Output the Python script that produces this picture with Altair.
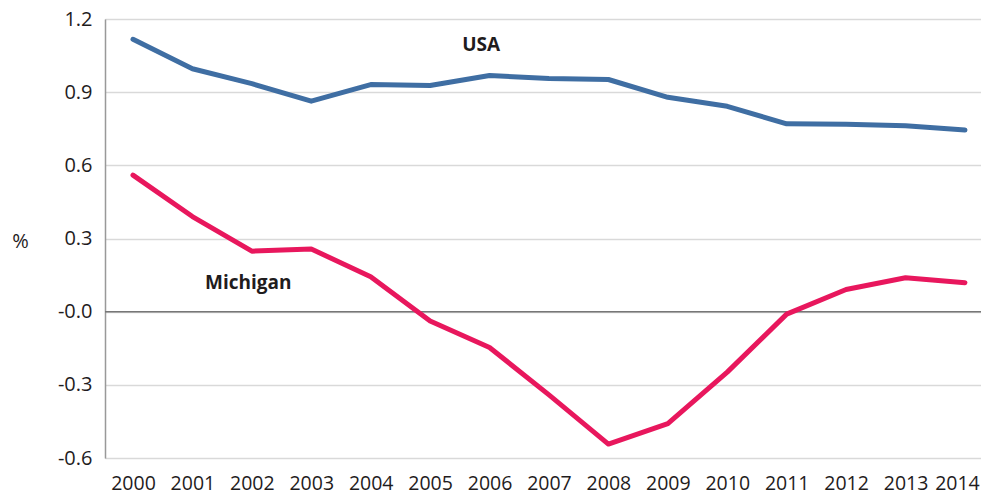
import altair as alt
import pandas as pd

years = list(range(2000, 2015))
usa = [1.117, 0.996, 0.935, 0.863, 0.931, 0.927, 0.968, 0.956, 0.952, 0.879, 0.842, 0.770, 0.768, 0.762, 0.745]
michigan = [0.560, 0.390, 0.248, 0.257, 0.143, -0.038, -0.147, -0.341, -0.543, -0.459, -0.248, -0.010, 0.091, 0.139, 0.119]
series_names = ["USA", "Michigan"]
series_colors = ["#3f6ea3", "#e8175d"]
y_ticks = [-0.6, -0.3, 0.0, 0.3, 0.6, 0.9, 1.2]

label_text = ["USA", "Michigan"]
label_x = [2005.86, 2001.94]
label_y = [1.093, 0.119]

rows = []
for y, u, m in zip(years, usa, michigan):
    rows.append({"year": y, "value": u, "series": "USA"})
    rows.append({"year": y, "value": m, "series": "Michigan"})
df = pd.DataFrame(rows)
labels = pd.DataFrame({"text": label_text, "x": label_x, "y": label_y})
zero = pd.DataFrame({"v": [0.0]})

FONT = "Open Sans"
TXT = "#1f1c1d"

xscale = alt.Scale(domain=[1999.529, 2014.27], nice=False, zero=False)
yscale = alt.Scale(domain=[-0.6, 1.2], nice=False)

lines = alt.Chart(df).mark_line(strokeWidth=5, strokeCap="round", strokeJoin="round").encode(
    x=alt.X("year:Q", scale=xscale,
            axis=alt.Axis(values=years, format="d", grid=False, ticks=False, domain=False,
                          labelFontSize=19.5, labelFont=FONT, labelColor=TXT,
                          labelPadding=16, title=None, labelFlush=False,
                          labelOffset={"expr": "datum.value == 2014 ? -8 : 0"})),
    y=alt.Y("value:Q", scale=yscale,
            axis=alt.Axis(values=y_ticks,
                          labelExpr="datum.value < 0 ? '-' + format(-datum.value, '.1f') : (datum.value == 0 ? '-0.0' : format(datum.value, '.1f'))",
                          grid=True, gridColor="#d9d9d9", gridWidth=1.5, ticks=False,
                          domain=True, domainColor="#999999", domainWidth=1.5,
                          labelFontSize=20, labelFont=FONT, labelColor=TXT, labelPadding=13,
                          title="%", titleAngle=0, titleFontSize=20, titleFont=FONT,
                          titleFontWeight="normal", titleColor=TXT,
                          titleX=-85, titleY=222, titleAlign="center", titleBaseline="middle")),
    color=alt.Color("series:N", scale=alt.Scale(domain=series_names, range=series_colors), legend=None),
)

zline = alt.Chart(zero).mark_rule(color="#777777", strokeWidth=1.5).encode(y=alt.Y("v:Q", scale=yscale))

text = alt.Chart(labels).mark_text(fontSize=19, font=FONT, fontWeight="bold", color=TXT).encode(
    x=alt.X("x:Q", scale=xscale), y=alt.Y("y:Q", scale=yscale), text="text:N"
)

chart = alt.layer(zline, lines, text).properties(
    width=876, height=439,
    autosize=alt.AutoSizeParams(type="none"),
    padding={"left": 97, "top": 11, "right": 0, "bottom": 38},
).configure_view(stroke=None).configure(background="white")

chart.save("out.html", embed_options={"renderer": "svg", "actions": False})
